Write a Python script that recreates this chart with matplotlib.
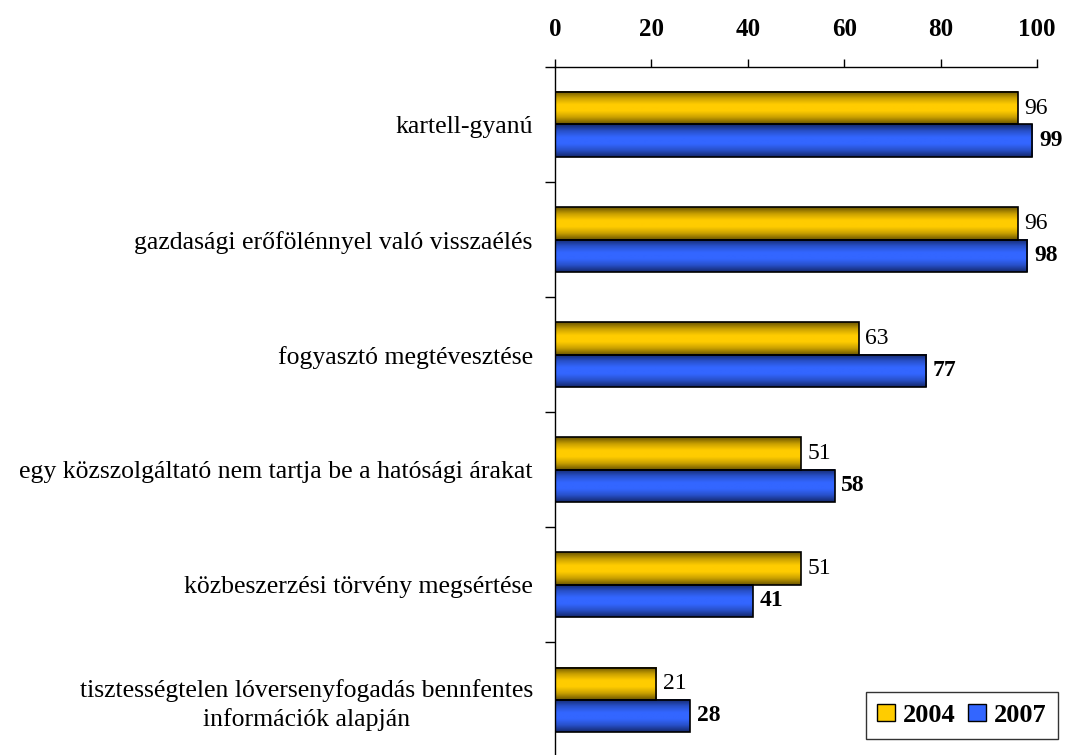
import numpy as np
import matplotlib.pyplot as plt
from matplotlib.colors import LinearSegmentedColormap
from matplotlib.patches import Patch

# data
categories = ["kartell-gyanú",
              "gazdasági erőfölénnyel való visszaélés",
              "fogyasztó megtévesztése",
              "egy közszolgáltató nem tartja be a hatósági árakat",
              "közbeszerzési törvény megsértése",
              "tisztességtelen lóversenyfogadás bennfentes\ninformációk alapján"]
v2004 = [96, 96, 63, 51, 51, 21]
v2007 = [99, 98, 77, 58, 41, 28]
xticks = [0, 20, 40, 60, 80, 100]

plt.rcParams['font.family'] = ['Liberation Serif', 'DejaVu Serif']

yellow_cm = LinearSegmentedColormap.from_list("y", ["#6b5500", "#c9a000", "#ffcc00", "#ffcc00", "#c9a000", "#6b5500"])
blue_cm = LinearSegmentedColormap.from_list("b", ["#14286b", "#2850c8", "#3366ff", "#3366ff", "#2850c8", "#14286b"])
grad = np.linspace(0, 1, 64).reshape(-1, 1)

fig = plt.figure(figsize=(10.8, 7.55), dpi=100)
ax = fig.add_axes([0.5139, -0.003, 0.4463, 0.9143])

h = 0.28
pos = np.arange(len(categories))

def gbar(y, w, cm):
    ax.imshow(grad, cmap=cm, aspect='auto', extent=[0, w, y + h / 2, y - h / 2], zorder=2)
    ax.barh(y, w, height=h, fill=False, edgecolor='black', linewidth=1.2, zorder=3)

for i in pos:
    gbar(i - h / 2, v2004[i], yellow_cm)
    gbar(i + h / 2, v2007[i], blue_cm)
    ax.text(v2004[i] + 1.4, i - h / 2, str(v2004[i]), va='center', ha='left', fontsize=17)
    ax.text(v2007[i] + 1.4, i + h / 2, str(v2007[i]), va='center', ha='left', fontsize=17, fontweight='bold')

ax.set_xlim(0, 100)
ax.set_ylim(len(categories) - 0.5, -0.5)

ax.xaxis.tick_top()
ax.set_xticks(xticks)
ax.set_xticklabels([str(t) for t in xticks], fontsize=18, fontweight='bold')
ax.tick_params(axis='x', direction='out', length=6, pad=13, width=1)

ax.set_yticks(np.arange(-0.5, len(categories) - 0.5, 1))
ax.set_yticklabels([])
ax.set_yticks(pos, minor=True)
ax.set_yticklabels(categories, minor=True, fontsize=18.5, multialignment='center', linespacing=1.3)
ax.tick_params(axis='y', which='major', direction='out', length=7, width=1)
ax.tick_params(axis='y', which='minor', length=0, pad=16)

for s in ['right', 'bottom']:
    ax.spines[s].set_visible(False)
for s in ['left', 'top']:
    ax.spines[s].set_linewidth(1)

handles = [Patch(facecolor='#ffcc00', edgecolor='black', label='2004'),
           Patch(facecolor='#3366ff', edgecolor='black', label='2007')]
leg = ax.legend(handles=handles, loc='lower right', bbox_to_anchor=(1.071, 0.008), ncol=2,
                prop={'size': 19, 'weight': 'bold'}, frameon=True, fancybox=False,
                edgecolor='black', handlelength=0.65, handleheight=0.65, handletextpad=0.3,
                columnspacing=0.5, borderpad=0.45)
leg.get_frame().set_linewidth(1)

fig.savefig("out.png", dpi=100)
